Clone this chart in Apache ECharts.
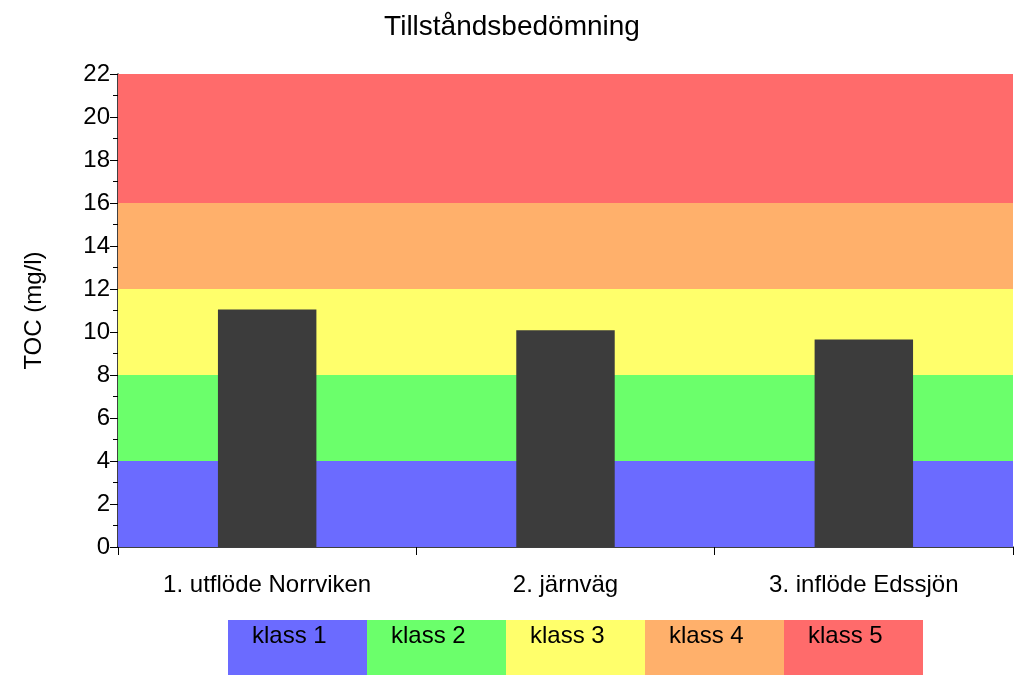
<!DOCTYPE html>
<html><head><meta charset="utf-8">
<script src="https://cdn.jsdelivr.net/npm/echarts@6/dist/echarts.min.js"></script>
<style>html,body{margin:0;padding:0;background:#fff}#c{width:1024px;height:685px}</style>
</head><body><div id="c"></div>
<script>
const categories = ['1. utflöde Norrviken', '2. järnväg', '3. inflöde Edssjön'];
const tocValues = [11.05, 10.08, 9.65];
const classNames = ['klass 1', 'klass 2', 'klass 3', 'klass 4', 'klass 5'];
const classLimits = [0, 4, 8, 12, 16, 22];
const classColors = ['#6B6BFF', '#6BFF6B', '#FFFF6B', '#FFB06B', '#FF6B6B'];

const chart = echarts.init(document.getElementById('c'));
const font = 'Liberation Sans, Arial, sans-serif';
const bands = classNames.map((n, i) => [
  { yAxis: classLimits[i], itemStyle: { color: classColors[i], opacity: 1 } },
  { yAxis: classLimits[i + 1] }
]);
const legendX0 = 228, legendW = 139;
const graphics = [];
classNames.forEach((n, i) => {
  graphics.push({ type: 'rect', left: legendX0 + i * legendW, top: 620,
    shape: { width: legendW, height: 55 }, style: { fill: classColors[i] } });
  graphics.push({ type: 'text', left: legendX0 + i * legendW + 24, top: 624,
    style: { text: n, font: '24px ' + font, fill: '#000' } });
});
chart.setOption({
  animation: false,
  title: { text: 'Tillståndsbedömning', left: 'center', top: 8,
    textStyle: { fontFamily: font, fontSize: 28, fontWeight: 'normal', color: '#000' } },
  grid: { left: 118, right: 11, top: 74, bottom: 138 },
  xAxis: { type: 'category', data: categories,
    axisLine: { lineStyle: { color: '#000', width: 1.5 } },
    axisTick: { show: true, length: 8, lineStyle: { color: '#000' } },
    axisLabel: { fontFamily: font, fontSize: 24, color: '#000', margin: 26 } },
  yAxis: { type: 'value', min: 0, max: 22, interval: 2,
    name: 'TOC (mg/l)', nameLocation: 'middle', nameGap: 72,
    nameTextStyle: { fontFamily: font, fontSize: 24, color: '#000' },
    axisLine: { show: true, lineStyle: { color: '#000', width: 1.5 } },
    axisTick: { show: true, length: 8, lineStyle: { color: '#000' } },
    minorTick: { show: true, splitNumber: 2, length: 5, lineStyle: { color: '#000' } },
    splitLine: { show: false },
    axisLabel: { fontFamily: font, fontSize: 24, color: '#000' } },
  series: [{ type: 'bar', data: tocValues, barWidth: '33%',
    itemStyle: { color: '#3c3c3c' }, z: 5,
    markArea: { silent: true, data: bands } }],
  graphic: graphics
});
</script></body></html>
